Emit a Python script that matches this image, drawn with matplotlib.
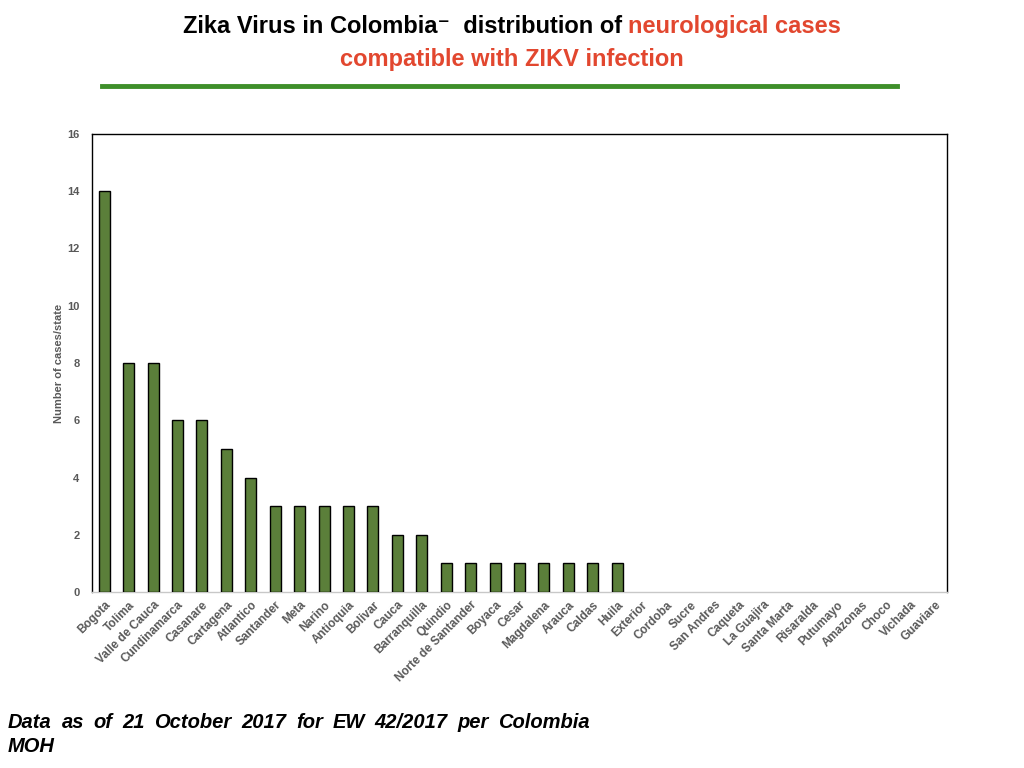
import matplotlib
matplotlib.use("Agg")
import matplotlib.pyplot as plt
from matplotlib.lines import Line2D

states = ["Bogota", "Tolima", "Valle de Cauca", "Cundinamarca", "Casanare",
          "Cartagena", "Atlantico", "Santander", "Meta", "Narino", "Antioquia",
          "Bolivar", "Cauca", "Barranquilla", "Quindio", "Norte de Santander",
          "Boyaca", "Cesar", "Magdalena", "Arauca", "Caldas", "Huila",
          "Exterior", "Cordoba", "Sucre", "San Andres", "Caqueta", "La Guajira",
          "Santa Marta", "Risaralda", "Putumayo", "Amazonas", "Choco",
          "Vichada", "Guaviare"]
cases = [14, 8, 8, 6, 6, 5, 4, 3, 3, 3, 3, 3, 2, 2, 1, 1, 1, 1, 1, 1, 1, 1,
         0, 0, 0, 0, 0, 0, 0, 0, 0, 0, 0, 0, 0]
y_ticks = [0, 2, 4, 6, 8, 10, 12, 14, 16]

title_black = "Zika Virus in Colombia\u207b  distribution of "
title_red1 = "neurological cases"
title_red2 = "compatible with ZIKV infection"
note_line1 = "Data as of 21 October 2017 for EW 42/2017 per Colombia"
note_line2 = "MOH"

W, H = 1024, 768
fig = plt.figure(figsize=(W / 100, H / 100), dpi=100)
fonts = ["Liberation Sans", "DejaVu Sans"]
grey = "#595959"
red = "#E2472F"

ax = fig.add_axes([92 / W, 1 - 592 / H, (947 - 92) / W, (592 - 134) / H])
# zero-height bars get no outline, like the original
edges = ["black" if c > 0 else "none" for c in cases]
ax.bar(range(len(states)), cases, width=0.45, color="#5B7F3A",
       edgecolor=edges, linewidth=1.0, zorder=3)
ax.set_xlim(-0.5, len(states) - 0.5)
ax.set_ylim(0, 16)
ax.set_yticks(y_ticks)
ax.set_yticklabels([str(t) for t in y_ticks], fontsize=8, color=grey,
                   fontweight="bold", family=fonts)
ax.set_xticks(range(len(states)))
ax.set_xticklabels(states, rotation=45, ha="right", rotation_mode="anchor",
                   fontsize=8.5, color=grey, fontweight="bold", family=fonts)
ax.tick_params(axis="both", length=0)
ax.tick_params(axis="y", pad=9)
ax.tick_params(axis="x", pad=5)
for s in ["left", "top", "right"]:
    ax.spines[s].set_color("black")
    ax.spines[s].set_linewidth(1.0)
ax.spines["bottom"].set_color("#C8C8C8")
ax.spines["bottom"].set_linewidth(1.0)
ax.set_ylabel("Number of cases/state", fontsize=8, color=grey,
              fontweight="bold", family=fonts, labelpad=2)

# title, two colours on the first line
renderer = fig.canvas.get_renderer()
tsize = 17
t1 = fig.text(0, 0, title_black, fontsize=tsize, fontweight="bold",
              family=fonts, color="black")
t2 = fig.text(0, 0, title_red1, fontsize=tsize, fontweight="bold",
              family=fonts, color=red)
w1 = t1.get_window_extent(renderer).width
w2 = t2.get_window_extent(renderer).width
x0 = (W - (w1 + w2)) / 2
y1 = 1 - 33 / H
t1.set_position((x0 / W, y1))
t2.set_position(((x0 + w1) / W, y1))
fig.text(0.5, 1 - 66 / H, title_red2, fontsize=tsize, fontweight="bold",
         family=fonts, color=red, ha="center")

fig.add_artist(Line2D([102 / W, 897 / W], [1 - 86 / H, 1 - 86 / H],
                      color="#3E8F2A", linewidth=3.5))

# justified note at the bottom
nsize = 14.5
words = note_line1.split()
wtexts = [fig.text(0, 1 - 728 / H, w, fontsize=nsize, fontweight="bold",
                   style="italic", family=fonts) for w in words]
widths = [t.get_window_extent(renderer).width for t in wtexts]
left, right = 8, 590
gap = (right - left - sum(widths)) / (len(words) - 1)
x = left
for t, w in zip(wtexts, widths):
    t.set_position((x / W, 1 - 728 / H))
    x += w + gap
fig.text(left / W, 1 - 752 / H, note_line2, fontsize=nsize, fontweight="bold",
         style="italic", family=fonts)

fig.savefig("out.png", dpi=100)
